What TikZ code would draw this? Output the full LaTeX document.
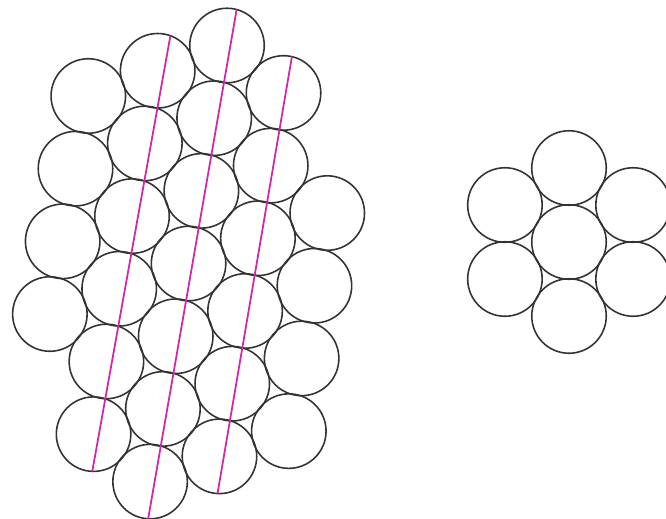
\documentclass[tikz,border=0pt]{standalone}
\usetikzlibrary{calc}
\definecolor{rodpink}{RGB}{212,36,168}

\begin{document}
\begin{tikzpicture}[
    wire/.style={circle, draw=black!80, inner sep=0pt, outer sep=0pt,
                 minimum size=1.49cm, line width=0.9pt},
    cut/.style={draw=rodpink, line width=1pt}
  ]
  \useasboundingbox (0,0) rectangle (13.32,-10.36);
  % -- left bundle: tilted hex lattice, columns run at 80 deg --
  \foreach \c/\first/\last in {0/0/3, 1/0/5, 2/0/6, 3/1/6, 4/3/6}{
    \foreach \k in {\first,...,\last}{
      \pgfmathsetmacro{\xx}{4.54 + \k*1.476*cos(-100) + (\c-2)*1.476*cos(20)}
      \pgfmathsetmacro{\yy}{-0.91 + \k*1.476*sin(-100) + (\c-2)*1.476*sin(20)}
      \node[wire] (s\c\k) at (\xx,\yy) {};
    }
  }
  % cutting lines along three columns
  \foreach \c/\first/\last/\u/\v in {1/0/5/70/268, 2/0/6/75/267, 3/1/6/77/267}{
    \draw[cut] (s\c\first.\u) -- (s\c\last.\v);
  }
  % -- right bundle: 1+6 --
  \node[wire] (h0) at (11.38,-4.84) {};
  \foreach \i in {1,...,6}{
    \node[wire] (h\i) at ($(h0)+({30+60*\i}:1.48)$) {};
  }
\end{tikzpicture}
\end{document}
